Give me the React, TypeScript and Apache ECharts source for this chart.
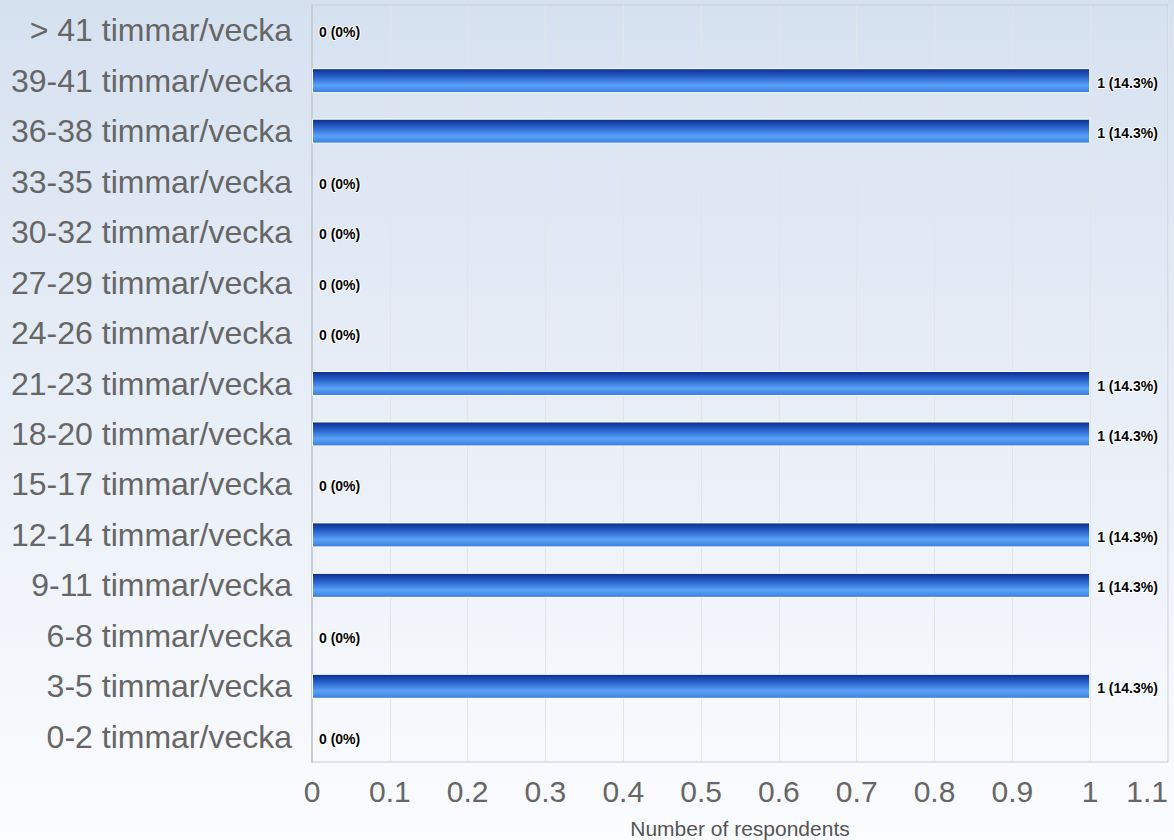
import React, { useEffect, useRef } from "react";
import * as echarts from "echarts";

const categories = [
  "0-2 timmar/vecka",
  "3-5 timmar/vecka",
  "6-8 timmar/vecka",
  "9-11 timmar/vecka",
  "12-14 timmar/vecka",
  "15-17 timmar/vecka",
  "18-20 timmar/vecka",
  "21-23 timmar/vecka",
  "24-26 timmar/vecka",
  "27-29 timmar/vecka",
  "30-32 timmar/vecka",
  "33-35 timmar/vecka",
  "36-38 timmar/vecka",
  "39-41 timmar/vecka",
  "> 41 timmar/vecka",
];
const respondents = [0, 1, 0, 1, 1, 0, 1, 1, 0, 0, 0, 0, 1, 1, 0];
const totalRespondents = 7;
const axisName = "Number of respondents";

export default function App() {
  const ref = useRef<HTMLDivElement>(null);
  useEffect(() => {
    if (!ref.current) return;
    const chart = echarts.init(ref.current, undefined, { renderer: "svg" });
    const fmtPct = (v: number) => {
      const p = Math.round((v / totalRespondents) * 1000) / 10;
      return `${v} (${p}%)`;
    };
    chart.setOption({
      animation: false,
      backgroundColor: {
        type: "linear",
        x: 0,
        y: 0,
        x2: 0,
        y2: 1,
        colorStops: [
          { offset: 0, color: "#d6e1f0" },
          { offset: 1, color: "#fbfcfe" },
        ],
      },
      grid: {
        left: 312,
        right: 6,
        top: 5,
        bottom: 78,
        show: true,
        borderColor: "#c8ccd4",
        borderWidth: 1,
        containLabel: false,
        outerBoundsMode: "none",
      },
      xAxis: {
        type: "value",
        min: 0,
        max: 1.1,
        interval: 0.1,
        name: axisName,
        nameLocation: "middle",
        nameGap: 56,
        nameTextStyle: { fontFamily: "Liberation Sans", fontSize: 21, color: "#555" },
        axisLine: { show: false },
        axisTick: { show: false },
        splitLine: { show: true, lineStyle: { color: "#e2e4e8", width: 1 } },
        axisLabel: {
          fontFamily: "Liberation Sans",
          fontSize: 30,
          color: "#666",
          margin: 14,
          alignMaxLabel: "right",
          formatter: (v: number) => String(parseFloat(v.toFixed(1))),
        },
      },
      yAxis: {
        type: "category",
        data: categories,
        axisLine: { show: true, lineStyle: { color: "#c8ccd4", width: 2 } },
        axisTick: { show: false },
        splitLine: { show: false },
        axisLabel: {
          fontFamily: "Liberation Sans",
          fontSize: 32,
          color: "#666",
          margin: 20,
          padding: [5, 0, 0, 0],
        },
      },
      series: [
        {
          type: "bar",
          data: respondents.map((v) => ({
            value: v,
            itemStyle: v === 0 ? { borderWidth: 0 } : undefined,
          })),
          barWidth: 25,
          itemStyle: {
            borderColor: "#ffffff",
            borderWidth: 1,
            color: {
              type: "linear",
              x: 0,
              y: 0,
              x2: 0,
              y2: 1,
              colorStops: [
                { offset: 0, color: "#0a2c8c" },
                { offset: 0.35, color: "#2a64cc" },
                { offset: 0.7, color: "#5aa2f8" },
                { offset: 1, color: "#3a7edc" },
              ],
            },
          },
          label: {
            show: true,
            position: "right",
            distance: 7,
            offset: [0, 2],
            fontFamily: "Liberation Sans",
            fontSize: 14,
            fontWeight: "bold",
            color: "#000",
            textBorderColor: "#fff",
            textBorderWidth: 2,
            formatter: (p: any) => fmtPct(p.value),
          },
        },
      ],
    });
    return () => chart.dispose();
  }, []);
  return (
    <div
      ref={ref}
      style={{ position: "fixed", left: 0, top: 0, width: 1174, height: 840 }}
    />
  );
}
